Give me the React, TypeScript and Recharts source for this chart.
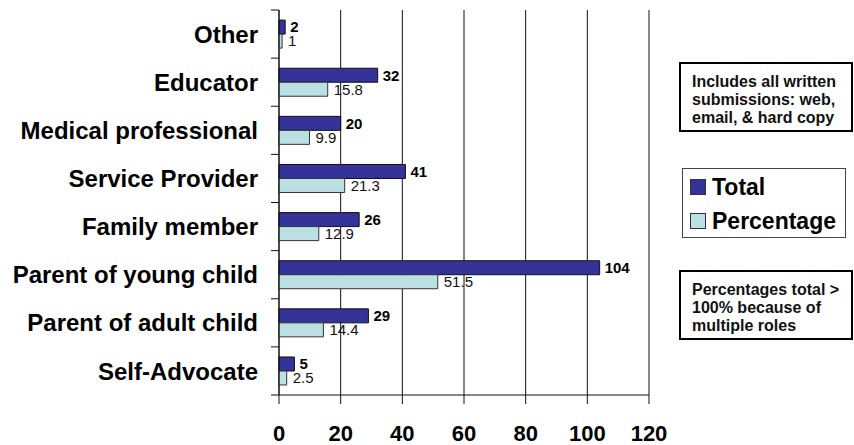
import React from 'react';
import { BarChart, Bar, XAxis, YAxis, CartesianGrid, Legend, LabelList } from 'recharts';

const categories = [
  'Other',
  'Educator',
  'Medical professional',
  'Service Provider',
  'Family member',
  'Parent of young child',
  'Parent of adult child',
  'Self-Advocate',
];
const totals = [2, 32, 20, 41, 26, 104, 29, 5];
const percentages = [1, 15.8, 9.9, 21.3, 12.9, 51.5, 14.4, 2.5];
const xTicks = [0, 20, 40, 60, 80, 100, 120];
const seriesOrder = ['Total', 'Percentage'];

const data = categories.map((name, i) => ({ name, total: totals[i], pct: percentages[i] }));

const W = 854;
const H = 445;
const margin = { top: 10, right: 205, bottom: 0, left: 0 };
const X_AXIS_H = 50;
const FONT = '"Liberation Sans", Arial, sans-serif';
const band = (H - margin.top - margin.bottom - X_AXIS_H) / categories.length;

const CategoryTick = (props: any) => {
  const { x, y, payload, index } = props;
  const axisX = x;
  return (
    <g>
      <line x1={axisX - 8} x2={axisX} y1={y - band / 2} y2={y - band / 2} stroke="#111" />
      {index === categories.length - 1 && (
        <line x1={axisX - 8} x2={axisX} y1={y + band / 2} y2={y + band / 2} stroke="#111" />
      )}
      <text x={axisX - 21} y={y} dy="0.36em" textAnchor="end" fontFamily={FONT} fontWeight="bold" fontSize={24} fill="#000">
        {payload.value}
      </text>
    </g>
  );
};

const LegendBox = (props: any) => {
  const items = [...(props.payload || [])].sort(
    (a: any, b: any) => seriesOrder.indexOf(a.value) - seriesOrder.indexOf(b.value)
  );
  return (
    <div style={{ border: '1px solid #444', width: 164, height: 70, boxSizing: 'border-box', padding: '1px 0 0 7px', background: '#fff' }}>
      {items.map((p: any) => (
        <div key={p.value} style={{ display: 'flex', alignItems: 'center', height: 34 }}>
          <span style={{ width: 14, height: 14, background: p.color, border: '1px solid #333', marginRight: 6, display: 'inline-block' }} />
          <span style={{ fontFamily: FONT, fontWeight: 'bold', fontSize: 23, color: '#000' }}>{p.value}</span>
        </div>
      ))}
    </div>
  );
};

const noteStyle: React.CSSProperties = {
  position: 'absolute',
  left: 679,
  width: 174,
  height: 70,
  boxSizing: 'border-box',
  border: '2px solid #000',
  padding: '9px 0 0 11px',
  fontFamily: FONT,
  fontWeight: 'bold',
  fontSize: 16,
  lineHeight: '18px',
  color: '#111',
  background: '#fff',
};

export default function App() {
  return (
    <div style={{ position: 'absolute', left: 0, top: 0, width: W, height: H, background: '#fff' }}>
      <BarChart
        width={W}
        height={H}
        data={data}
        layout="vertical"
        margin={margin}
        barCategoryGap="21%"
        barGap={0}
      >
        <CartesianGrid horizontal={false} stroke="#111" />
        <XAxis
          type="number"
          domain={[0, 120]}
          ticks={xTicks}
          interval={0}
          height={X_AXIS_H}
          tickSize={9}
          tickMargin={21}
          axisLine={{ stroke: '#111' }}
          tickLine={{ stroke: '#111' }}
          tick={{ fontFamily: FONT, fontWeight: 'bold', fontSize: 22, fill: '#000' }}
        />
        <XAxis
          xAxisId="top"
          orientation="top"
          type="number"
          domain={[0, 120]}
          height={0}
          tick={false}
          tickLine={false}
          axisLine={{ stroke: '#111' }}
        />
        <YAxis
          type="category"
          dataKey="name"
          width={279}
          interval={0}
          tickSize={0}
          tickMargin={0}
          tickLine={false}
          axisLine={{ stroke: '#111' }}
          tick={<CategoryTick />}
        />
        <Legend
          layout="vertical"
          verticalAlign="middle"
          align="center"
          wrapperStyle={{ left: 682, top: 168, width: 164 }}
          content={<LegendBox />}
        />
        <Bar dataKey="total" name="Total" fill="#333399" stroke="#111" strokeWidth={1} isAnimationActive={false}>
          <LabelList dataKey="total" position="right" offset={5} fontFamily={FONT} fontWeight="bold" fontSize={15} fill="#000" />
        </Bar>
        <Bar dataKey="pct" name="Percentage" fill="#BBE0E3" stroke="#333" strokeWidth={1} isAnimationActive={false}>
          <LabelList dataKey="pct" position="right" offset={6} fontFamily={FONT} fontSize={15} fill="#111" />
        </Bar>
      </BarChart>
      <div style={{ ...noteStyle, top: 62 }}>
        Includes all written
        <br />
        submissions: web,
        <br />
        email, &amp; hard copy
      </div>
      <div style={{ ...noteStyle, top: 270 }}>
        Percentages total &gt;
        <br />
        100% because of
        <br />
        multiple roles
      </div>
    </div>
  );
}
